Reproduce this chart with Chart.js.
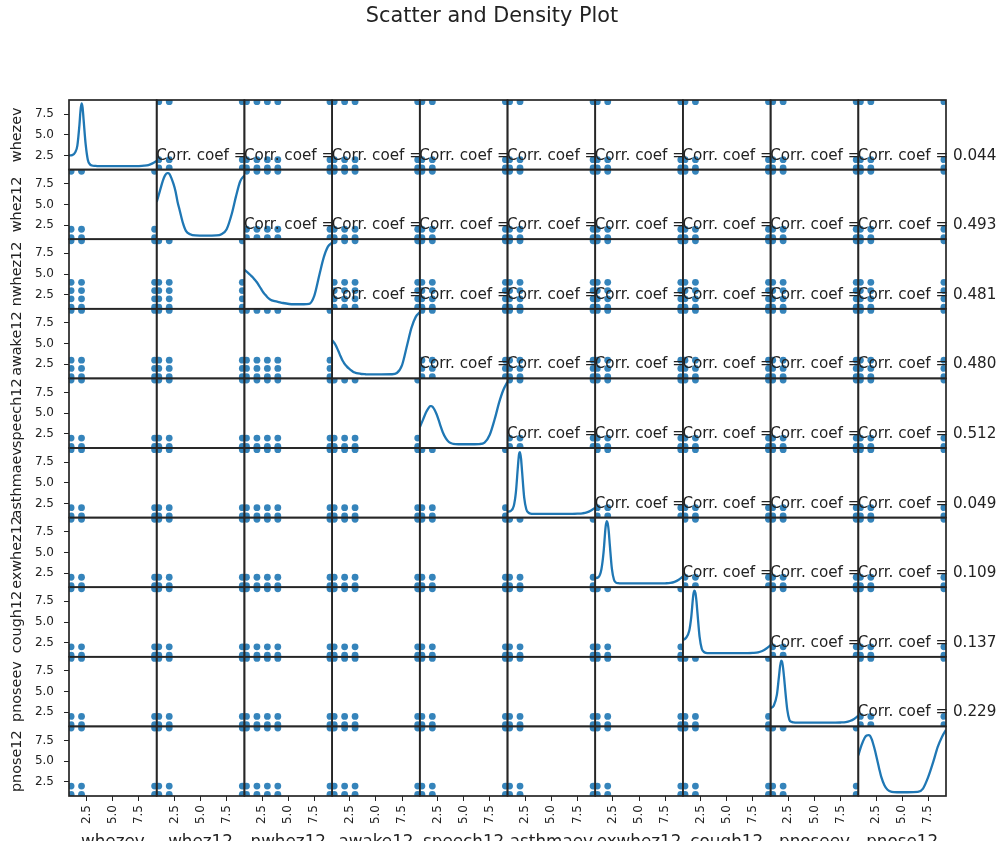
<!DOCTYPE html>
<html><head><meta charset="utf-8">
<script src="https://cdn.jsdelivr.net/npm/chart.js@4.4.1/dist/chart.umd.min.js"></script>
<style>
html,body{margin:0;padding:0;background:#fff;overflow:hidden;}
#wrap{position:relative;width:1003px;height:841px;overflow:hidden;background:#fff;}
canvas{display:block;}
</style></head><body>
<div id="wrap"><canvas id="c" width="1003" height="853"></canvas></div>
<script>
const chartTitle = 'Scatter and Density Plot';
const variables = ['whezev','whez12','nwhez12','awake12','speech12','asthmaev','exwhez12','cough12','pnoseev','pnose12'];

// response codes seen as dot positions for each variable
const levels_whezev   = [1, 2, 9];
const levels_whez12   = [1, 2, 9];
const levels_nwhez12  = [1, 2, 3, 4, 9];
const levels_awake12  = [1, 2, 3, 9];
const levels_speech12 = [1, 2, 9];
const levels_asthmaev = [1, 2, 9];
const levels_exwhez12 = [1, 2, 9];
const levels_cough12  = [1, 2, 9];
const levels_pnoseev  = [1, 2, 9];
const levels_pnose12  = [1, 2, 9];

// density curves on the diagonal (read in the row's displayed y units)
const densityX        = [0.8,1.1,1.4,1.6,1.8,1.9,2.0,2.1,2.2,2.4,2.6,2.8,3.0,3.3,3.6,4.0,4.5,5.5,6.5,7.0,7.5,8.0,8.4,8.8,9.2];
const density_whezev   = [2.5,2.55,2.9,3.7,6.2,7.9,8.78,8.3,6.8,3.8,2.0,1.45,1.3,1.25,1.22,1.22,1.22,1.22,1.22,1.22,1.23,1.27,1.35,1.55,1.85];
const density_whez12   = [5.3,6.6,7.9,8.5,8.78,8.78,8.7,8.5,8.2,7.5,6.6,5.3,4.3,2.8,1.8,1.4,1.25,1.22,1.25,1.4,2.0,3.9,6.0,7.8,8.5];
const density_nwhez12  = [5.5,5.2,4.85,4.6,4.3,4.15,4.0,3.8,3.6,3.2,2.8,2.5,2.2,1.9,1.75,1.65,1.5,1.35,1.35,1.4,2.4,5.0,7.0,8.3,8.78];
const density_awake12  = [5.4,4.9,4.1,3.5,2.95,2.75,2.55,2.4,2.25,2.0,1.8,1.6,1.5,1.4,1.33,1.3,1.28,1.28,1.3,1.45,2.4,4.9,6.9,8.2,8.78];
const density_speech12 = [3.3,4.2,5.1,5.55,5.85,5.86,5.8,5.65,5.45,4.9,4.2,3.4,2.7,1.95,1.5,1.3,1.25,1.25,1.28,1.45,2.4,4.4,6.3,7.8,8.78];
const density_asthmaev = [1.5,1.6,2.2,3.8,7.0,8.4,8.7,7.9,6.3,3.2,1.8,1.4,1.28,1.25,1.25,1.25,1.25,1.25,1.25,1.25,1.27,1.32,1.42,1.65,2.0];
const density_exwhez12 = [1.9,2.0,3.0,5.0,8.1,8.78,8.5,7.5,5.9,3.0,1.7,1.35,1.28,1.25,1.25,1.25,1.25,1.25,1.25,1.25,1.27,1.32,1.45,1.7,2.1];
const density_cough12  = [2.8,3.1,3.9,5.6,8.3,8.78,8.5,7.5,6.0,3.2,1.8,1.4,1.28,1.25,1.25,1.25,1.25,1.25,1.25,1.25,1.27,1.33,1.5,1.8,2.2];
const density_pnoseev  = [3.0,3.3,4.6,6.8,8.75,8.6,7.8,6.6,5.2,2.8,1.6,1.35,1.28,1.25,1.25,1.25,1.25,1.25,1.25,1.25,1.27,1.32,1.45,1.7,2.1];
const density_pnose12  = [5.7,6.9,7.8,8.1,8.15,8.1,7.9,7.6,7.2,6.3,5.2,4.1,3.1,2.1,1.55,1.3,1.25,1.25,1.3,1.7,3.1,5.0,6.7,7.9,8.78];

// correlation coefficients visible in the last column (rows 0..8)
const corrLastColumn = [0.044, 0.493, 0.481, 0.480, 0.512, 0.049, 0.109, 0.137, 0.229];

const tickValues = [2.5, 5.0, 7.5];
const axisMin = 0.8, axisMax = 9.2;

const levelsOf = {whezev:levels_whezev, whez12:levels_whez12, nwhez12:levels_nwhez12, awake12:levels_awake12,
  speech12:levels_speech12, asthmaev:levels_asthmaev, exwhez12:levels_exwhez12, cough12:levels_cough12,
  pnoseev:levels_pnoseev, pnose12:levels_pnose12};
const densityOf = {whezev:density_whezev, whez12:density_whez12, nwhez12:density_nwhez12, awake12:density_awake12,
  speech12:density_speech12, asthmaev:density_asthmaev, exwhez12:density_exwhez12, cough12:density_cough12,
  pnoseev:density_pnoseev, pnose12:density_pnose12};

const BLUE = '#1f77b4';
const FONT = 'DejaVu Sans';
const TXT = '#222222';
const N = variables.length;

const datasets = [];
for (let i = 0; i < N; i++) {
  for (let j = 0; j < N; j++) {
    if (i === j) {
      const d = densityOf[variables[i]];
      datasets.push({
        data: densityX.map((x, k) => ({x: x, y: d[k]})),
        xAxisID: 'x' + j, yAxisID: 'y' + i,
        showLine: true, borderColor: BLUE, borderWidth: 2.3, pointRadius: 0,
        cubicInterpolationMode: 'monotone', fill: false
      });
    } else {
      const pts = [];
      levelsOf[variables[j]].forEach(xv => levelsOf[variables[i]].forEach(yv => pts.push({x: xv, y: yv})));
      datasets.push({
        data: pts, xAxisID: 'x' + j, yAxisID: 'y' + i,
        showLine: false, pointRadius: 3.4, pointBorderWidth: 0,
        backgroundColor: 'rgba(31,119,180,0.9)', borderColor: 'rgba(0,0,0,0)'
      });
    }
  }
}

const fixTicks = s => { s.ticks = tickValues.map(v => ({value: v})); };
const scales = {};
for (let i = 0; i < N; i++) {
  scales['y' + i] = {
    type: 'linear', position: 'left', stack: 'rows', stackWeight: 1, weight: N - i,
    min: axisMin, max: axisMax,
    afterBuildTicks: fixTicks,
    afterFit: s => { s.width = 69; },
    ticks: {callback: v => Number(v).toFixed(1), font: {family: FONT, size: 12}, color: TXT, padding: 10, autoSkip: false},
    grid: {display: true, drawOnChartArea: false, drawTicks: true, tickLength: 5, color: '#222', lineWidth: 1},
    border: {display: false},
    title: {display: true, text: variables[i], font: {family: FONT, size: 14.4}, color: TXT, padding: {top: 9, bottom: 0}}
  };
}
for (let j = 0; j < N; j++) {
  scales['x' + j] = {
    type: 'linear', position: 'bottom', stack: 'cols', stackWeight: 1, weight: j,
    min: axisMin, max: axisMax,
    afterBuildTicks: fixTicks,
    afterFit: s => { s.height = 57; },
    ticks: {callback: v => Number(v).toFixed(1), font: {family: FONT, size: 12}, color: TXT, padding: 4,
            minRotation: 90, maxRotation: 90, autoSkip: false},
    grid: {display: true, drawOnChartArea: false, drawTicks: true, tickLength: 5, color: '#222', lineWidth: 1},
    border: {display: false},
    title: {display: true, text: variables[j], font: {family: FONT, size: 16.8}, color: TXT, padding: {top: 0, bottom: 0}}
  };
}

const cellClip = {
  id: 'cellClip',
  beforeDatasetDraw(chart, args) {
    const ds = chart.data.datasets[args.index];
    const xs = chart.scales[ds.xAxisID], ys = chart.scales[ds.yAxisID];
    const ctx = chart.ctx;
    ctx.save();
    ctx.beginPath();
    ctx.rect(xs.left, ys.top, xs.right - xs.left, ys.bottom - ys.top);
    ctx.clip();
  },
  afterDatasetDraw(chart) { chart.ctx.restore(); }
};

const decorations = {
  id: 'decorations',
  afterDatasetsDraw(chart) {
    const ctx = chart.ctx;
    // cell frames
    ctx.save();
    ctx.strokeStyle = '#262626';
    ctx.lineWidth = 1.7;
    for (let i = 0; i < N; i++) for (let j = 0; j < N; j++) {
      const xs = chart.scales['x' + j], ys = chart.scales['y' + i];
      ctx.strokeRect(xs.left, ys.top, xs.right - xs.left, ys.bottom - ys.top);
    }
    ctx.restore();
    // correlation annotations in the upper triangle
    ctx.save();
    ctx.font = '15.2px "' + FONT + '"';
    ctx.fillStyle = TXT;
    ctx.textBaseline = 'middle';
    ctx.textAlign = 'left';
    const fullW = ctx.measureText('Corr. coef = 0.000').width;
    for (let i = 0; i < N; i++) {
      for (let j = i + 1; j < N; j++) {
        const xs = chart.scales['x' + j], ys = chart.scales['y' + i];
        const cx = xs.left + 0.785 * (xs.right - xs.left);
        const cy = ys.bottom - 0.2 * (ys.bottom - ys.top);
        const x0 = cx - fullW / 2;
        ctx.save();
        if (j < N - 1) {
          const nx = chart.scales['x' + (j + 1)];
          ctx.beginPath();
          ctx.rect(0, ys.top, nx.left, ys.bottom - ys.top);
          ctx.clip();
          ctx.fillText('Corr. coef = ', x0, cy);
        } else {
          ctx.fillText('Corr. coef = ' + corrLastColumn[i].toFixed(3), x0, cy);
        }
        ctx.restore();
      }
    }
    ctx.restore();
    // figure title
    ctx.save();
    ctx.font = '20.8px "' + FONT + '"';
    ctx.fillStyle = TXT;
    ctx.textAlign = 'center';
    ctx.textBaseline = 'middle';
    ctx.fillText(chartTitle, 492, 17);
    ctx.restore();
  }
};

new Chart(document.getElementById('c'), {
  type: 'scatter',
  data: {datasets},
  options: {
    responsive: false, animation: false, devicePixelRatio: 1,
    layout: {padding: {top: 100, right: 57, bottom: 0, left: 0}},
    plugins: {legend: {display: false}, tooltip: {enabled: false}, title: {display: false}},
    scales
  },
  plugins: [cellClip, decorations]
});
</script>
</body></html>
